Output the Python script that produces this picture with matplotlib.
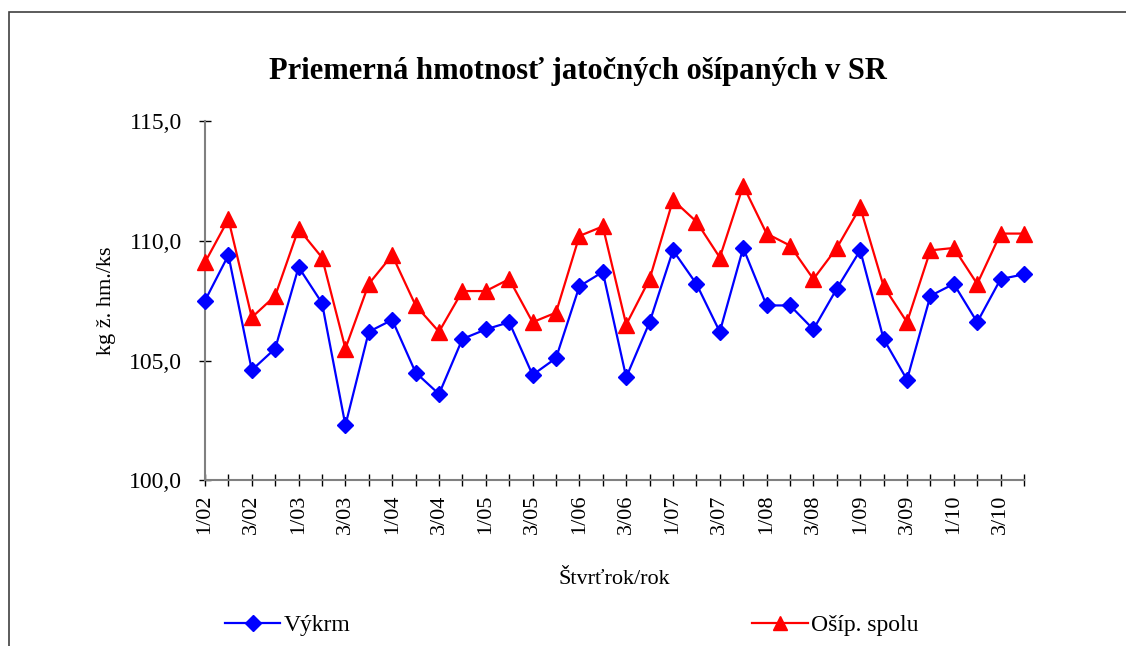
import matplotlib
matplotlib.use("Agg")
import matplotlib.pyplot as plt
from matplotlib.patches import Rectangle

plt.rcParams['font.family'] = ['Liberation Serif', 'DejaVu Serif']

# quarters 1/02 .. 4/10
quarters = [f"{q}/{y:02d}" for y in range(2, 11) for q in range(1, 5)]

vykrm = [107.5, 109.4, 104.6, 105.5, 108.9, 107.4, 102.3, 106.2, 106.7, 104.5,
         103.6, 105.9, 106.3, 106.6, 104.4, 105.1, 108.1, 108.7, 104.3, 106.6,
         109.6, 108.2, 106.2, 109.7, 107.3, 107.3, 106.3, 108.0, 109.6, 105.9,
         104.2, 107.7, 108.2, 106.6, 108.4, 108.6]

osip_spolu = [109.1, 110.9, 106.8, 107.7, 110.5, 109.3, 105.5, 108.2, 109.4, 107.3,
              106.2, 107.9, 107.9, 108.4, 106.6, 107.0, 110.2, 110.6, 106.5, 108.4,
              111.7, 110.8, 109.3, 112.3, 110.3, 109.8, 108.4, 109.7, 111.4, 108.1,
              106.6, 109.6, 109.7, 108.2, 110.3, 110.3]

y_ticks = [100, 105, 110, 115]

fig = plt.figure(figsize=(11.26, 6.46), dpi=100)

# outer chart frame
fig.patches.append(Rectangle((9 / 1126, -0.05), 1.2, 1 - 12 / 646 + 0.05,
                             transform=fig.transFigure, fill=False,
                             edgecolor='#404040', linewidth=1.2))

ax = fig.add_axes([205 / 1126, 1 - 480.3 / 646, (1024 - 205) / 1126, (480.3 - 121) / 646])

x = list(range(len(quarters)))
ax.plot(x, vykrm, color='#0000FF', linewidth=1.6, marker='D', markersize=8.5,
        label='Výkrm', clip_on=False, zorder=3)
ax.plot(x, osip_spolu, color='#FF0000', linewidth=1.6, marker='^', markersize=11,
        label='Ošíp. spolu', clip_on=False, zorder=3)

ax.set_xlim(0, len(quarters) - 1)
ax.set_ylim(100, 115)
ax.set_yticks(y_ticks)
ax.set_yticklabels([f"{v:.1f}".replace('.', ',') for v in y_ticks], fontsize=17)
ax.set_xticks(x)
ax.set_xticklabels([q if i % 2 == 0 else '' for i, q in enumerate(quarters)],
                   rotation=90, fontsize=16)

for side in ('top', 'right'):
    ax.spines[side].set_visible(False)
for side in ('left', 'bottom'):
    ax.spines[side].set_color('#808080')
    ax.spines[side].set_linewidth(1.5)
ax.tick_params(axis='both', direction='inout', length=9, width=1, color='black')
ax.tick_params(axis='x', pad=6)
ax.tick_params(axis='y', pad=12)

ax.set_ylabel('kg ž. hm./ks', fontsize=16, labelpad=9.5)
ax.set_xlabel('Štvrťrok/rok', fontsize=16, labelpad=26)

fig.text(578 / 1126, 1 - 72 / 646, 'Priemerná hmotnosť jatočných ošípaných v SR',
         ha='center', va='center', fontsize=22, fontweight='bold')

fig.legend(loc='center left', bbox_to_anchor=(225 / 1126, 1 - 625 / 646), ncol=2,
           frameon=False, fontsize=17, handlelength=2.35, handletextpad=0.15,
           columnspacing=17.0, markerscale=0.9, borderpad=0, borderaxespad=0)

fig.savefig('out.png', dpi=100, facecolor='white')
